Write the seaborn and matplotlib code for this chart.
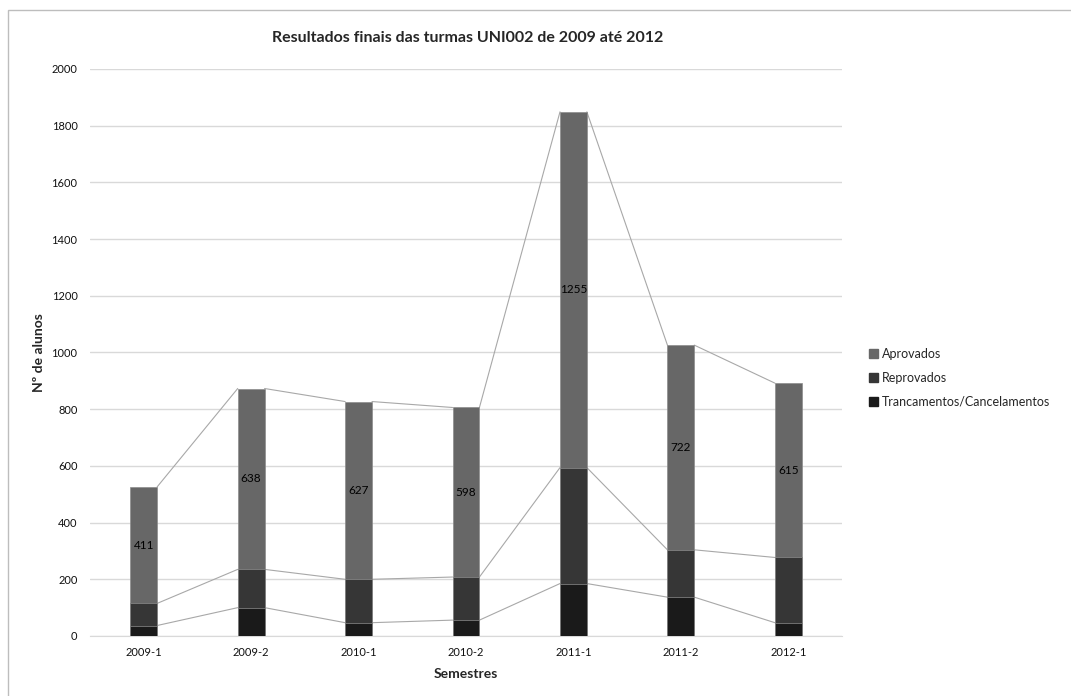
import matplotlib
matplotlib.use("Agg")
import matplotlib.pyplot as plt
from matplotlib.patches import Patch
import seaborn as sns
import pandas as pd
import numpy as np

semestres = ["2009-1", "2009-2", "2010-1", "2010-2", "2011-1", "2011-2", "2012-1"]
trancamentos = [37, 100, 47, 56, 185, 137, 47]
reprovados = [78, 135, 153, 152, 409, 167, 230]
aprovados = [411, 638, 627, 598, 1255, 722, 615]

cor_aprov = "#676767"
cor_reprov = "#363636"
cor_tranc = "#1a1a1a"

sns.set_style("white")
plt.rcParams["font.family"] = ["Lato", "DejaVu Sans"]

df = pd.DataFrame({
    "semestre": semestres,
    "tranc": trancamentos,
    "reprov": np.array(trancamentos) + np.array(reprovados),
})
df["total"] = df["reprov"] + np.array(aprovados)

fig = plt.figure(figsize=(10.71, 6.96), dpi=100)
ax = fig.add_axes([90 / 1071, 1 - 636 / 696, 752 / 1071, 567 / 696])

largura = 0.25
# empilhado: totais primeiro, depois as partes de baixo por cima
sns.barplot(data=df, x="semestre", y="total", color=cor_aprov, width=largura,
            edgecolor="#8c8c8c", linewidth=0.5, saturation=1, ax=ax, zorder=3)
sns.barplot(data=df, x="semestre", y="reprov", color=cor_reprov, width=largura,
            edgecolor="#8c8c8c", linewidth=0.5, saturation=1, ax=ax, zorder=3)
sns.barplot(data=df, x="semestre", y="tranc", color=cor_tranc, width=largura,
            edgecolor="#8c8c8c", linewidth=0.5, saturation=1, ax=ax, zorder=3)

# linhas de serie entre as barras
for col in ["total", "reprov", "tranc"]:
    vals = df[col].values
    for i in range(len(vals) - 1):
        ax.plot([i + largura / 2, i + 1 - largura / 2], [vals[i], vals[i + 1]],
                color="#a8a8a8", lw=0.8, zorder=2)

# rotulos dos aprovados
for i, a in enumerate(aprovados):
    ax.text(i, df["reprov"][i] + a / 2, str(a), ha="center", va="center",
            fontsize=8.5, color="black", zorder=4)

ax.set_ylim(0, 2000)
ax.set_xlim(-0.5, 6.5)
ax.set_yticks(range(0, 2001, 200))
ax.yaxis.grid(True, color="#d9d9d9", lw=1)
ax.set_axisbelow(True)
for s in ["top", "right", "left"]:
    ax.spines[s].set_visible(False)
ax.spines["bottom"].set_color("#d9d9d9")
ax.tick_params(axis="both", length=0, labelsize=8, colors="#111111")
ax.tick_params(axis="y", pad=9)
ax.tick_params(axis="x", pad=8)

ax.set_xlabel("Semestres", fontsize=10, fontweight="bold", labelpad=7)
ax.set_ylabel("Nº de alunos", fontsize=10, fontweight="bold", labelpad=5)
fig.text(468 / 1071, 1 - 38 / 696, "Resultados finais das turmas UNI002 de 2009 até 2012",
         ha="center", va="center", fontsize=11.5, fontweight="bold")

handles = [Patch(color=cor_aprov, label="Aprovados"),
           Patch(color=cor_reprov, label="Reprovados"),
           Patch(color=cor_tranc, label="Trancamentos/Cancelamentos")]
fig.legend(handles=handles, loc="center left", bbox_to_anchor=(858 / 1071, 1 - 378 / 696),
           frameon=False, fontsize=9, handlelength=0.7, handleheight=0.7,
           handletextpad=0.3, labelspacing=0.95)

# moldura do grafico
fig.add_artist(plt.Rectangle((8 / 1071, -0.01), 1.02, 1 - 10 / 696 + 0.01,
                             transform=fig.transFigure, fill=False,
                             edgecolor="#bdbdbd", lw=1))

fig.savefig("out.png", dpi=100)
